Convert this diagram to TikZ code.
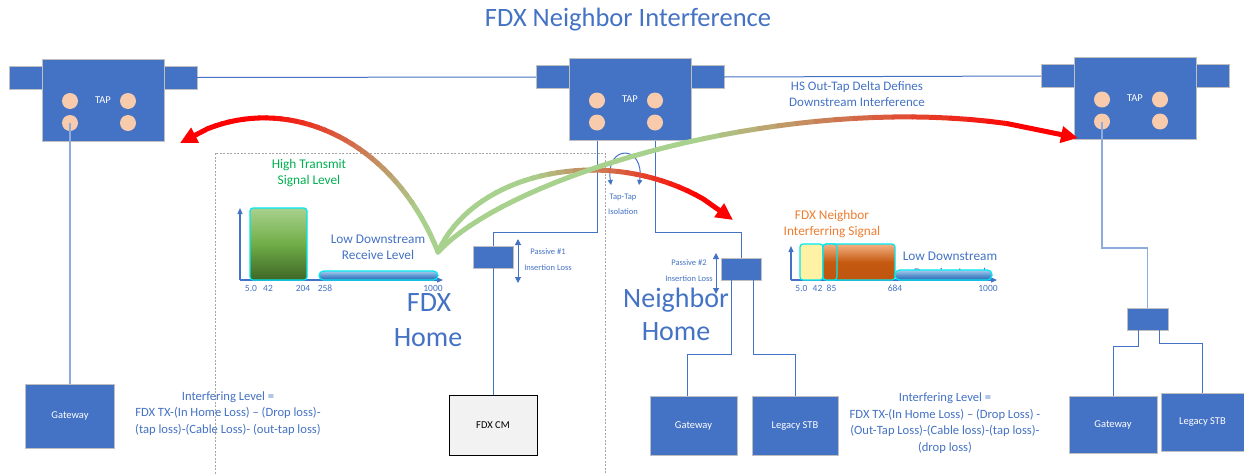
\documentclass[tikz,border=0pt]{standalone}
\usepackage{fontspec}
\setmainfont{Carlito}
\usetikzlibrary{arrows.meta,calc}
\definecolor{tapblue}{HTML}{4472C4}
\definecolor{dropblue}{HTML}{8FAADC}
\definecolor{peach}{HTML}{F8CBAD}
\definecolor{edgegray}{HTML}{BFBFBF}
\definecolor{arcgreen}{HTML}{A9D18E}
\definecolor{txtgreen}{HTML}{00B050}
\definecolor{txtorange}{HTML}{ED7D31}
\definecolor{glow}{HTML}{00E8F0}
\definecolor{cmgray}{HTML}{F2F2F2}
\definecolor{homegray}{HTML}{A6A6A6}
\definecolor{ylw}{RGB}{255,242,165}
\definecolor{gtop}{RGB}{169,209,142}
\definecolor{gmid}{RGB}{112,173,71}
\definecolor{gbot}{RGB}{62,102,38}
\definecolor{btop}{RGB}{170,205,236}
\definecolor{bmid}{RGB}{91,150,210}
\definecolor{bbot}{RGB}{50,100,175}
\definecolor{otop}{RGB}{244,177,131}
\definecolor{omid}{RGB}{197,90,17}
\definecolor{obot}{RGB}{190,85,15}

% one tap: body, two ports, four jacks
\newcommand\tapunit[3]{%
  \node[tapbody] (#1) at (#2,#3) {TAP};
  \node[port, anchor=north east] (#1l) at ([yshift=-7pt]#1.north west) {};
  \node[port, anchor=north west] (#1r) at ([yshift=-7pt]#1.north east) {};
  \node[jack] (#1j1) at ([xshift=-33pt,yshift=-1pt]#1.center) {};
  \node[jack] (#1j2) at ([xshift=25pt,yshift=-1pt]#1.center) {};
  \node[jack] (#1j3) at ([xshift=-33pt,yshift=-23pt]#1.center) {};
  \node[jack] (#1j4) at ([xshift=25pt,yshift=-23pt]#1.center) {};
}

% a thick cubic sweep whose colour runs from green to red, ending in a red arrow head
% #1 start, #2 control 1, #3 control 2, #4 end, #5/#6 where the colour change begins/ends, #7 name prefix
\newcommand\sweep[7]{%
  \foreach \k in {0,...,40}{%
    \pgfmathsetmacro\sT{\k/40}%
    \pgfmathsetmacro\bzA{(1-\sT)^3}%
    \pgfmathsetmacro\bzB{3*(1-\sT)^2*\sT}%
    \pgfmathsetmacro\bzC{3*(1-\sT)*\sT^2}%
    \pgfmathsetmacro\bzD{\sT^3}%
    \coordinate (#7\k) at ($\bzA*#1+\bzB*#2+\bzC*#3+\bzD*#4$);
  }%
  \foreach \k in {0,...,35}{%
    \pgfmathtruncatemacro\kn{\k+1}%
    \pgfmathsetmacro\pp{max(0,min(100,((\k+0.5)/40-#5)/(#6-#5)*100))}%
    \draw[line width=5, line cap=round, red!\pp!arcgreen] (#7\k) -- (#7\kn);
  }%
  \draw[line width=5, red, -{Triangle[length=17pt,width=16pt]}] (#736) -- (#740);
}

\begin{document}
\begin{tikzpicture}[x=1pt,y=-1pt,
  box/.style={draw=edgegray, line width=0.8, fill=tapblue, inner sep=0, outer sep=0},
  tapbody/.style={box, minimum width=122, minimum height=82, text=white, font=\fontsize{10.5}{12}\selectfont},
  port/.style={box, minimum width=33, minimum height=23},
  jack/.style={circle, fill=peach, minimum size=16, inner sep=0},
  dev/.style={box, text=white, font=\fontsize{10.5}{12}\selectfont},
  passive/.style={box, minimum width=40, minimum height=22},
  wire/.style={tapblue, line width=1},
  drop/.style={dropblue, line width=1.3},
  lbl/.style={text=tapblue, align=center, inner sep=0},
  tiny/.style={lbl, font=\fontsize{8.5}{10}\selectfont},
  tick/.style={lbl, font=\fontsize{9.5}{10}\selectfont},
  mid/.style={lbl, font=\fontsize{13.3}{16.5}\selectfont},
  big/.style={lbl, font=\fontsize{28}{36}\selectfont},
  axis/.style={tapblue, line width=1.2, -{Triangle[length=6pt,width=5pt]}},
  dim/.style={tapblue, line width=1, {Triangle[length=6pt,width=6pt]}-{Triangle[length=6pt,width=6pt]}},
  panel/.style={draw=glow, line width=1.2, rounded corners=3},
  greenpanel/.style={panel, top color=gtop, bottom color=gbot, middle color=gmid},
  orangepanel/.style={panel, top color=otop, bottom color=obot, middle color=omid},
  bluebar/.style={panel, rounded corners=4.5, top color=btop, bottom color=bbot, middle color=bmid}
]
\useasboundingbox (0,0) rectangle (1244,474);

% title
\node[lbl, font=\fontsize{26.5}{30}\selectfont] (title) at (628,20) {FDX Neighbor Interference};

% FDX home outline
\draw[homegray, line width=0.7, dash pattern=on 2pt off 1.5pt] (215,153) rectangle (605,482);

% taps and trunk cable
\tapunit{tapA}{103}{100}
\tapunit{tapB}{630}{99.5}
\tapunit{tapC}{1135}{98.5}
\draw[wire] (tapAr.east) -- (tapBl.west);
\draw[wire] (tapBr.east) -- (tapCl.west);

% left subscriber
\node[dev, minimum width=89, minimum height=64] (gwA) at (70,416) {Gateway};
\draw[drop] (tapAj3.center) -- (gwA.north);

% FDX home
\node[passive] (pasA) at (493,257) {};
\node[draw=black, line width=0.9, fill=cmgray, minimum width=88, minimum height=60, font=\fontsize{10.5}{12}\selectfont] (cm) at (493,425) {FDX CM};
\draw[wire] (tapBj3 |- tapB.south) -- (tapBj3 |- 0,232) -| (pasA.north);
\draw[wire] (pasA.south) -- (cm.north);
\draw[dim] (518,239) -- (518,283);
\node[tiny] (pasAa) at (548,252) {Passive \#1};
\node[tiny] (pasAb) at (548,268) {Insertion Loss};

% neighbor home
\node[passive] (pasB) at (741,269) {};
\node[dev, minimum width=87, minimum height=59] (gwB) at (693.5,425.5) {Gateway};
\node[dev, minimum width=86, minimum height=59] (stbB) at (795,425.5) {Legacy STB};
\draw[wire] (tapBj4 |- tapB.south) -- (tapBj4 |- 0,232) -| (pasB.north);
\draw[wire] ([xshift=-10pt]pasB.south) |- (687,354) -- (gwB.north -| 687,0);
\draw[wire] ([xshift=12pt]pasB.south) |- (stbB.north |- 0,354) -- (stbB.north);
\draw[dim] (716,253) -- (716,294);
\node[tiny] (pasBa) at (689,263) {Passive \#2};
\node[tiny] (pasBb) at (689,279) {Insertion Loss};

% right subscriber
\node[passive, minimum width=41] (spC) at (1147.5,319) {};
\node[dev, minimum width=88, minimum height=57] (gwC) at (1113,424.5) {Gateway};
\node[dev, minimum width=83, minimum height=58] (stbC) at (1202.5,422) {Legacy STB};
\draw[drop] (tapCj3.center) -- (tapCj3.center |- 0,248) -| (spC.north);
\draw[wire] ([xshift=-9.5pt]spC.south) |- (gwC.north |- 0,346) -- (gwC.north);
\draw[wire] ([xshift=11.5pt]spC.south) |- (stbC.north |- 0,343) -- (stbC.north);

% tap-to-tap isolation
\coordinate (isoL) at (611,185);
\coordinate (isoR) at (639,185);
\draw[tapblue, line width=1, {Triangle[length=5pt,width=5pt]}-{Triangle[length=5pt,width=5pt]}] (isoL) .. controls (605,144) and (645,144) .. (isoR);
\node[tiny] (isoa) at (623,197) {Tap-Tap};
\node[tiny] (isob) at (623,212) {Isolation};

% FDX home spectrum
\draw[axis] (240,280) -- (240,208);
\draw[axis] (240,280) -- (443,280);
\draw[greenpanel] (250,208) rectangle (307,280);
\draw[bluebar] (319,271) rectangle (438,280);
\node[tick] at (251,288) {5.0};
\node[tick] at (268,288) {42};
\node[tick] at (303,288) {204};
\node[tick] at (325,288) {258};
\node[tick] at (433,288) {1000};
\node[mid, text=txtgreen] (hts) at (309,173) {High Transmit\\Signal Level};
\node[mid] (ldr) at (378,247.5) {Low Downstream\\Receive Level};
\node[big] (fdxa) at (429,303) {FDX};
\node[big] (fdxb) at (428,338) {Home};

% neighbor spectrum
\node[mid] (ldrB) at (950,273) {Receive Level};
\draw[axis] (791,280) -- (791,246);
\draw[axis] (791,280) -- (997,280);
\draw[panel, fill=ylw] (800,244) rectangle (823,280);
\draw[orangepanel] (823,244) rectangle (895,280);
\draw[orangepanel] (823,244) rectangle (837,280);
\draw[bluebar] (895,270) rectangle (992,280);
\node[tick] at (801.5,288) {5.0};
\node[tick] at (817.5,288) {42};
\node[tick] at (831.5,288) {85};
\node[tick] at (895,288) {684};
\node[tick] at (988,288) {1000};
\node[mid, text=txtorange] (fni) at (832,224) {FDX Neighbor\\Interferring Signal};
\node[mid] (ldsB) at (950,256) {Low Downstream};
\node[big] (nha) at (676,300) {Neighbor};
\node[big] (nhb) at (676,332) {Home};

% notes
\node[lbl, font=\fontsize{13}{16}\selectfont] (delta) at (857,94) {HS Out-Tap Delta Defines\\Downstream Interference};
\node[lbl, font=\fontsize{12.6}{16.5}\selectfont] (eqA) at (228,413.5) {Interfering Level =\\FDX TX-(In Home Loss) -- (Drop loss)-\\(tap loss)-(Cable Loss)- (out-tap loss)};
\node[lbl, font=\fontsize{12.6}{16.7}\selectfont] (eqB) at (945,423) {Interfering Level =\\FDX TX-(In Home Loss) -- (Drop Loss) -\\(Out-Tap Loss)-(Cable loss)-(tap loss)-\\(drop loss)};

% interference paths out of the FDX home
\coordinate (src) at (438,252);
\sweep{(src)}{(390,130)}{(270,85)}{(180,143)}{0.12}{0.72}{arcA}
\sweep{(src)}{(480,160)}{(640,140)}{(733,220)}{0.40}{0.88}{arcB}
\sweep{(src)}{(520,165)}{(850,75)}{(1078,138)}{0.50}{0.92}{arcC}
\end{tikzpicture}
\end{document}
